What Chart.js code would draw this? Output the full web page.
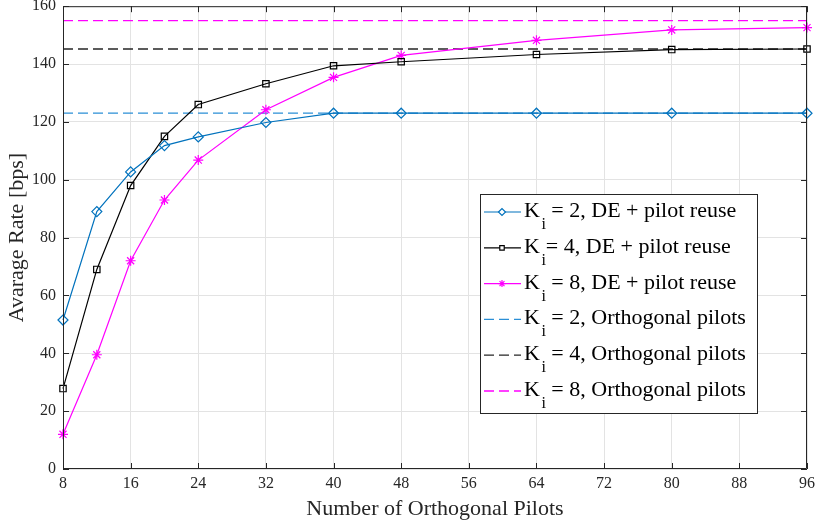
<!DOCTYPE html>
<html>
<head>
<meta charset="utf-8">
<script src="https://cdn.jsdelivr.net/npm/chart.js"></script>
<style>
  html, body { margin: 0; padding: 0; background: #fff; }
  #wrap { width: 819px; height: 526px; }
</style>
</head>
<body>
<div id="wrap"><canvas id="GraficoRate"></canvas></div>
<script>
const xPilots = [8, 12, 16, 20, 24, 32, 40, 48, 64, 80, 96];
const rateK2 = [51.5, 89, 102.7, 111.8, 114.8, 119.8, 123, 123, 123, 123, 123];
const rateK4 = [27.8, 69, 98, 115, 126, 133.2, 139.4, 140.8, 143.3, 145, 145.2];
const rateK8 = [12, 39.5, 72, 93, 106.8, 124.2, 135.4, 143, 148.2, 151.8, 152.6];
const orthK2 = 123;
const orthK4 = 145.2;
const orthK8 = 155;
const xTicks = [8, 16, 24, 32, 40, 48, 56, 64, 72, 80, 88, 96];
const yTicks = [0, 20, 40, 60, 80, 100, 120, 140, 160];
const legendRest = [
  " = 2, DE + pilot reuse",
  "= 4, DE + pilot reuse",
  " = 8, DE + pilot reuse",
  " = 2, Orthogonal pilots",
  " = 4, Orthogonal pilots",
  " = 8, Orthogonal pilots",
];

const AZUL = "#0072BD";
const MAGENTA = "#FF00FF";
const FONTE = "'Liberation Serif', 'Times New Roman', serif";

function serie(valores) {
  return xPilots.map((x, i) => ({ x: x, y: valores[i] }));
}
function linhaH(v) {
  return [{ x: xTicks[0], y: v }, { x: xTicks[xTicks.length - 1], y: v }];
}

// frame, inward ticks and the legend box with subscripts
const molduraPlugin = {
  id: "moldura",
  afterDatasetsDraw(chart) {
    const ctx = chart.ctx;
    const a = chart.chartArea;
    const sx = chart.scales.x;
    const sy = chart.scales.y;
    ctx.save();
    ctx.strokeStyle = "#262626";
    ctx.lineWidth = 1;
    ctx.beginPath();
    ctx.rect(a.left + 0.5, a.top + 0.5, a.right - a.left - 1, a.bottom - a.top - 1);
    ctx.stroke();
    ctx.beginPath();
    xTicks.forEach((t) => {
      const px = Math.round(sx.getPixelForValue(t)) + 0.5;
      ctx.moveTo(px, a.bottom);
      ctx.lineTo(px, a.bottom - 6);
      ctx.moveTo(px, a.top);
      ctx.lineTo(px, a.top + 6);
    });
    yTicks.forEach((t) => {
      const py = Math.round(sy.getPixelForValue(t)) + 0.5;
      ctx.moveTo(a.left, py);
      ctx.lineTo(a.left + 6, py);
      ctx.moveTo(a.right, py);
      ctx.lineTo(a.right - 6, py);
    });
    ctx.stroke();

    // legend
    const bx = 480.5, by = 194.5, bw = 277, bh = 219;
    ctx.fillStyle = "#fff";
    ctx.fillRect(bx, by, bw, bh);
    ctx.strokeStyle = "#262626";
    ctx.strokeRect(bx, by, bw, bh);
    chart.data.datasets.forEach((ds, i) => {
      const cy = 212 + i * 35.8;
      ctx.save();
      ctx.strokeStyle = ds.borderColor;
      ctx.lineWidth = ds.borderWidth;
      ctx.setLineDash(ds.borderDash || []);
      ctx.beginPath();
      ctx.moveTo(484, cy);
      ctx.lineTo(521, cy);
      ctx.stroke();
      ctx.restore();
      if (ds.pointRadius > 0 && Chart.helpers && Chart.helpers.drawPoint) {
        ctx.save();
        ctx.strokeStyle = ds.borderColor;
        ctx.fillStyle = "#fff";
        ctx.lineWidth = ds.pointBorderWidth || 1;
        Chart.helpers.drawPoint(ctx, {
          pointStyle: ds.pointStyle,
          radius: ds.pointRadius * 0.7,
          rotation: 0,
          borderWidth: ds.pointBorderWidth || 1,
        }, 502, cy);
        ctx.restore();
      }
      ctx.fillStyle = "#000";
      ctx.textBaseline = "alphabetic";
      ctx.textAlign = "left";
      ctx.font = "22px " + FONTE;
      ctx.fillText("K", 524, cy + 5);
      const wK = ctx.measureText("K").width;
      ctx.font = "16px " + FONTE;
      ctx.fillText("i", 524 + wK + 1.5, cy + 17);
      const wi = ctx.measureText("i").width;
      ctx.font = "22px " + FONTE;
      ctx.fillText(legendRest[i], 524 + wK + 1.5 + wi, cy + 5);
    });
    ctx.restore();
  },
};

const grafico = document.getElementById("GraficoRate");

new Chart(grafico, {
  type: "line",
  data: {
    datasets: [
      {
        data: serie(rateK2),
        borderColor: AZUL,
        borderWidth: 1.2,
        pointStyle: "rectRot",
        pointRadius: 5,
        pointBorderWidth: 1.2,
        pointBackgroundColor: "rgba(0,0,0,0)",
        clip: false,
      },
      {
        data: serie(rateK4),
        borderColor: "#000",
        borderWidth: 1.2,
        pointStyle: "rect",
        pointRadius: 4.5,
        pointBorderWidth: 1.2,
        pointBackgroundColor: "rgba(0,0,0,0)",
        clip: false,
      },
      {
        data: serie(rateK8),
        borderColor: MAGENTA,
        borderWidth: 1.2,
        pointStyle: "star",
        pointRadius: 5,
        pointBorderWidth: 1.2,
        pointBackgroundColor: "rgba(0,0,0,0)",
        clip: false,
      },
      {
        data: linhaH(orthK2),
        borderColor: "#2b8fd6",
        borderWidth: 1.3,
        borderDash: [10, 5],
        pointRadius: 0,
      },
      {
        data: linhaH(orthK4),
        borderColor: "#262626",
        borderWidth: 1.3,
        borderDash: [10, 5],
        pointRadius: 0,
      },
      {
        data: linhaH(orthK8),
        borderColor: MAGENTA,
        borderWidth: 1.3,
        borderDash: [10, 5],
        pointRadius: 0,
      },
    ],
  },
  options: {
    responsive: true,
    maintainAspectRatio: false,
    animation: false,
    layout: { padding: { top: 4, right: 12, left: 0, bottom: 0 } },
    plugins: { legend: { display: false }, tooltip: { enabled: false } },
    elements: { line: { tension: 0 } },
    scales: {
      x: {
        type: "linear",
        min: 8,
        max: 96,
        afterBuildTicks: (s) => { s.ticks = xTicks.map((v) => ({ value: v })); },
        afterFit: (s) => { s.height = 57; s.paddingLeft = 0; s.paddingRight = 0; },
        grid: { color: "#e3e3e3", drawTicks: false },
        border: { display: false },
        ticks: { color: "#262626", padding: 5, font: { family: FONTE, size: 16 }, maxRotation: 0 },
        title: { display: true, text: "Number of Orthogonal Pilots", color: "#262626", padding: { top: 0 }, font: { family: FONTE, size: 22 } },
      },
      y: {
        min: 0,
        max: 160,
        afterBuildTicks: (s) => { s.ticks = yTicks.map((v) => ({ value: v })); },
        afterFit: (s) => { s.width = 63; s.paddingTop = 0; s.paddingBottom = 0; },
        grid: { color: "#e3e3e3", drawTicks: false },
        border: { display: false },
        ticks: { color: "#262626", padding: 7, font: { family: FONTE, size: 16 } },
        title: { display: true, text: "Avarage Rate [bps]", color: "#262626", padding: { bottom: 2 }, font: { family: FONTE, size: 22 } },
      },
    },
  },
  plugins: [molduraPlugin],
});
</script>
</body>
</html>
